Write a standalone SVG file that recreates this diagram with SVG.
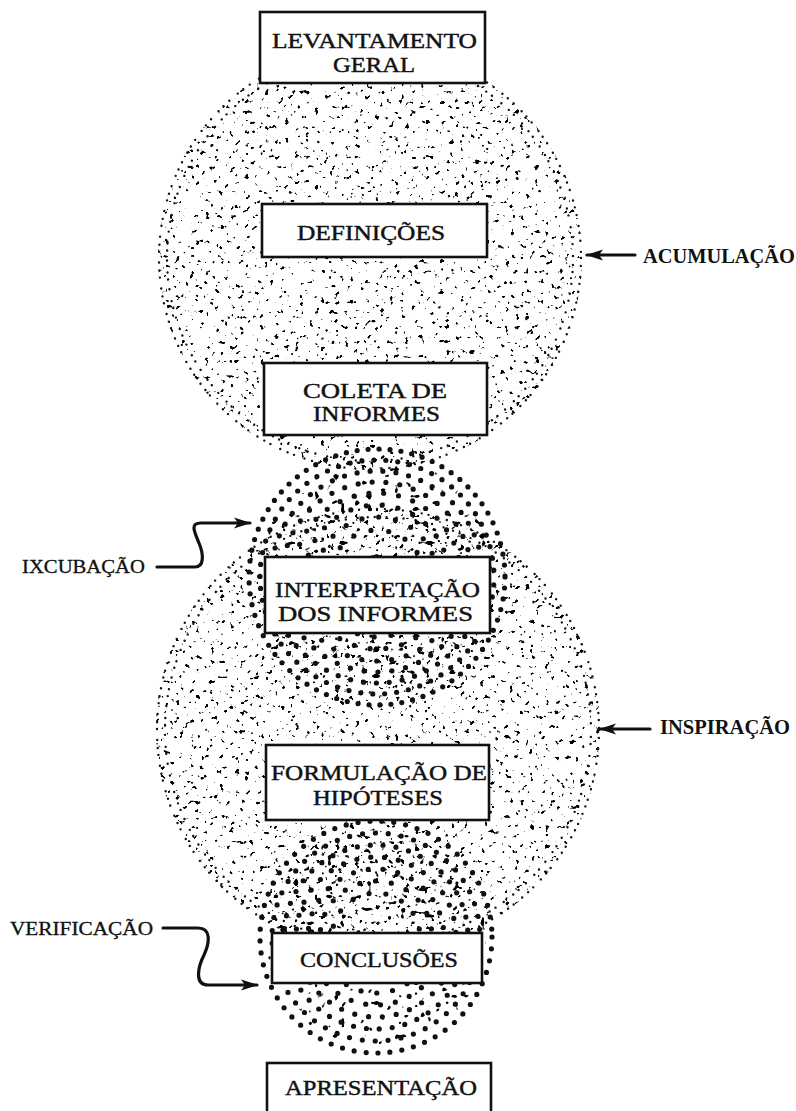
<svg xmlns="http://www.w3.org/2000/svg" width="796" height="1111" viewBox="0 0 796 1111">
<style>
.bg{fill:#fff}
.box{fill:#fff;stroke:#111;stroke-width:2.6}
.t{font-family:"Liberation Serif","Times New Roman",serif;font-size:22px;fill:#111;stroke:#111;stroke-width:0.45;text-anchor:middle}
.lb{font-family:"Liberation Serif","Times New Roman",serif;font-size:20px;font-weight:bold;fill:#111}
.ll{font-family:"Liberation Serif","Times New Roman",serif;font-size:18px;fill:#111;stroke:#111;stroke-width:0.3}
.fr{fill:none;stroke:#111;stroke-width:2.4;stroke-linecap:round}
.br{fill:none;stroke:#111;stroke-width:5.2;stroke-linecap:round}
.con{fill:none;stroke:#111;stroke-width:3.2;stroke-linecap:round}
</style>
<defs>
<filter id="fine" filterUnits="userSpaceOnUse" x="0" y="0" width="796" height="1111" color-interpolation-filters="sRGB">
<feTurbulence type="fractalNoise" baseFrequency="0.2" numOctaves="2" seed="5" result="n"/>
<feColorMatrix in="n" type="matrix" values="0 0 0 0 0  0 0 0 0 0  0 0 0 0 0  18 0 0 0 -12.05" result="d"/>
<feComposite in="d" in2="SourceAlpha" operator="in"/>
</filter>
<filter id="coarse" filterUnits="userSpaceOnUse" x="0" y="0" width="796" height="1111" color-interpolation-filters="sRGB">
<feTurbulence type="fractalNoise" baseFrequency="0.15" numOctaves="1" seed="11" result="n"/>
<feColorMatrix in="n" type="matrix" values="0 0 0 0 0  0 0 0 0 0  0 0 0 0 0  20 0 0 0 -13.4" result="d"/>
<feComposite in="d" in2="SourceAlpha" operator="in"/>
</filter>
<marker id="ah" markerUnits="userSpaceOnUse" markerWidth="18" markerHeight="12" refX="16" refY="6" orient="auto">
<path d="M0,0.5 L17,6 L0,11.5 L4,6 Z" fill="#111"/>
</marker>
</defs>
<rect class="bg" x="0" y="0" width="796" height="1111"/>

<g id="stipple-fine" filter="url(#fine)">
<circle cx="370" cy="258" r="212" fill="#000"/>
<circle cx="378" cy="730" r="222" fill="#000"/>
</g>
<g id="rings-fine">
<circle class="fr" cx="370" cy="258" r="211" stroke-dasharray="0 8 0 11 0 7"/>
<circle class="fr" cx="370" cy="258" r="203" stroke-dasharray="0 10 0 7 0 12" stroke-dashoffset="3"/>
<circle class="fr" cx="378" cy="730" r="221" stroke-dasharray="0 8 0 11 0 7"/>
<circle class="fr" cx="378" cy="730" r="213" stroke-dasharray="0 10 0 7 0 12" stroke-dashoffset="3"/>
</g>
<g id="stipple-coarse" filter="url(#coarse)">
<circle cx="377" cy="577" r="120" fill="#000"/>
<circle cx="376" cy="937" r="110" fill="#000"/>
</g>
<g id="rings-bold">
<circle class="br" cx="377" cy="577" r="128" stroke-dasharray="0 11"/>
<circle class="br" cx="377" cy="577" r="117" stroke-dasharray="0 12" stroke-dashoffset="4"/>
<circle class="br" cx="377" cy="577" r="106" stroke-dasharray="0 13" stroke-dashoffset="2"/>
<circle class="br" cx="377" cy="577" r="95" stroke-dasharray="0 14" stroke-dashoffset="6"/>
<circle class="br" cx="377" cy="577" r="84" stroke-dasharray="0 15" stroke-dashoffset="3"/>
<circle class="br" cx="377" cy="577" r="72" stroke-dasharray="0 16" stroke-dashoffset="8"/>
<circle class="br" cx="377" cy="577" r="60" stroke-dasharray="0 17" stroke-dashoffset="5"/>
<circle class="br" cx="377" cy="577" r="47" stroke-dasharray="0 18" stroke-dashoffset="1"/>
<circle class="br" cx="376" cy="937" r="116" stroke-dasharray="0 12"/>
<circle class="br" cx="376" cy="937" r="104" stroke-dasharray="0 13" stroke-dashoffset="5"/>
<circle class="br" cx="376" cy="937" r="92" stroke-dasharray="0 13" stroke-dashoffset="2"/>
<circle class="br" cx="376" cy="937" r="80" stroke-dasharray="0 14" stroke-dashoffset="7"/>
<circle class="br" cx="376" cy="937" r="68" stroke-dasharray="0 15" stroke-dashoffset="3"/>
<circle class="br" cx="376" cy="937" r="56" stroke-dasharray="0 16" stroke-dashoffset="9"/>
<circle class="br" cx="376" cy="937" r="44" stroke-dasharray="0 17" stroke-dashoffset="4"/>
</g>

<g id="n-levantamento">
<rect class="box" x="260" y="12" width="225" height="71"/>
<text class="t"><tspan x="374.5" y="48" textLength="205" lengthAdjust="spacingAndGlyphs">LEVANTAMENTO</tspan><tspan x="374" y="72" textLength="82" lengthAdjust="spacingAndGlyphs">GERAL</tspan></text>
</g>
<g id="n-definicoes">
<rect class="box" x="262" y="204" width="225" height="53"/>
<text class="t" x="371" y="240" textLength="148" lengthAdjust="spacingAndGlyphs">DEFINIÇÕES</text>
</g>
<g id="n-coleta">
<rect class="box" x="264" y="363" width="223" height="72"/>
<text class="t"><tspan x="375" y="398" textLength="144" lengthAdjust="spacingAndGlyphs">COLETA DE</tspan><tspan x="376.5" y="421" textLength="127" lengthAdjust="spacingAndGlyphs">INFORMES</tspan></text>
</g>
<g id="n-interpretacao">
<rect class="box" x="265" y="557" width="225" height="76"/>
<text class="t"><tspan x="377.5" y="597" textLength="205" lengthAdjust="spacingAndGlyphs">INTERPRETAÇÃO</tspan><tspan x="375.5" y="621" textLength="195" lengthAdjust="spacingAndGlyphs">DOS INFORMES</tspan></text>
</g>
<g id="n-formulacao">
<rect class="box" x="266" y="745" width="223" height="75"/>
<text class="t"><tspan x="379" y="780" textLength="216" lengthAdjust="spacingAndGlyphs">FORMULAÇÃO DE</tspan><tspan x="378" y="805" textLength="130" lengthAdjust="spacingAndGlyphs">HIPÓTESES</tspan></text>
</g>
<g id="n-conclusoes">
<rect class="box" x="272" y="933" width="210" height="50"/>
<text class="t" x="379" y="967" textLength="158" lengthAdjust="spacingAndGlyphs">CONCLUSÕES</text>
</g>
<g id="n-apresentacao">
<rect class="box" x="267" y="1063" width="224" height="60"/>
<text class="t" x="381" y="1095" textLength="192" lengthAdjust="spacingAndGlyphs">APRESENTAÇÃO</text>
</g>

<g id="labels">
<text class="lb" x="643" y="263" textLength="152" lengthAdjust="spacingAndGlyphs">ACUMULAÇÃO</text>
<text class="lb" x="660" y="734" textLength="130" lengthAdjust="spacingAndGlyphs">INSPIRAÇÃO</text>
<text class="ll" x="22" y="573" textLength="123" lengthAdjust="spacingAndGlyphs">IXCUBAÇÃO</text>
<text class="ll" x="10" y="935" textLength="143" lengthAdjust="spacingAndGlyphs">VERIFICAÇÃO</text>
</g>

<g id="connectors">
<path class="con" d="M635,255 L587,255" marker-end="url(#ah)"/>
<path class="con" d="M650,729 L600,729" marker-end="url(#ah)"/>
<path class="con" d="M157,567 L195,567 C204,567 204,555 199,543 C194,531 190,523 201,523 L250,523" marker-end="url(#ah)"/>
<path class="con" d="M163,928 L198,928 C211,928 210,942 204,955 C198,967 194,985 208,985 L257,985" marker-end="url(#ah)"/>
</g>
</svg>
